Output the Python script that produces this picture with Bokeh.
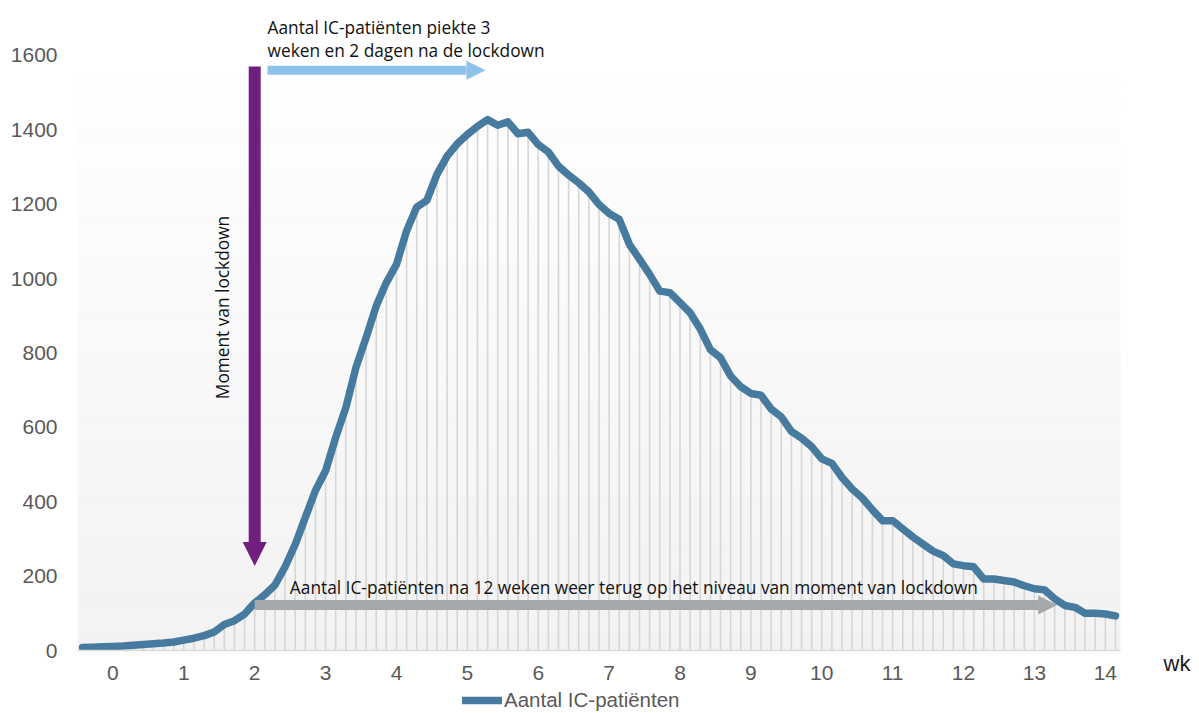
import numpy as np
from bokeh.plotting import figure
from bokeh.layouts import column
from bokeh.models import (Range1d, FixedTicker, LinearAxis, Arrow, NormalHead,
                          Label, Legend, LegendItem)
from bokeh.embed import file_html
from bokeh.resources import INLINE

# ---------------- data ----------------
days = list(range(-3, 100))          # day 0 = week 0
ic_patients = [
    8, 9, 10, 11, 12, 14, 16, 18, 20, 23,
    28, 33, 40, 50, 70, 80, 98, 128, 150, 176,
    225, 285, 358, 430, 483, 573, 653, 761, 841, 926,
    989, 1038, 1128, 1192, 1210, 1280, 1329, 1362, 1387, 1409,
    1427, 1412, 1421, 1389, 1393, 1360, 1340, 1302, 1278, 1257,
    1233, 1199, 1175, 1159, 1092, 1052, 1011, 966, 962, 935,
    908, 864, 809, 787, 738, 709, 691, 686, 649, 628,
    589, 571, 548, 515, 503, 465, 434, 410, 378, 349,
    349, 327, 305, 286, 267, 255, 233, 228, 225, 192,
    192, 188, 184, 174, 166, 163, 139, 121, 116, 100,
    100, 98, 93,
]
week_ticks = list(range(0, 15))
y_ticks = list(range(0, 1601, 200))
series_name = "Aantal IC-patiënten"
x_unit_label = "wk"
peak_note_1 = "Aantal IC-patiënten piekte 3"
peak_note_2 = "weken en 2 dagen na de lockdown"
lockdown_note = "Moment van lockdown"
return_note = "Aantal IC-patiënten na 12 weken weer terug op het niveau van moment van lockdown"

lockdown_week = 2.0
peak_week = days[int(np.argmax(ic_patients))] / 7
return_week = 13.32

# ---------------- layout ----------------
W = 1199
FRAME_BOTTOM = 650
B_BOTTOM = 39
H_MAIN = FRAME_BOTTOM + B_BOTTOM
H_LEG = 713 - H_MAIN
PX_PER_UNIT = 0.372
y_end = FRAME_BOTTOM / PX_PER_UNIT

weeks = [d / 7 for d in days]
x_range = Range1d((days[0] - 0.5) / 7, (days[-1] + 0.5) / 7)
y_range = Range1d(0, y_end)

p = figure(width=W, height=H_MAIN, x_range=x_range, y_range=y_range,
           output_backend="svg", toolbar_location=None,
           min_border_left=77, min_border_right=79,
           min_border_top=0, min_border_bottom=B_BOTTOM)
p.outline_line_color = None
p.xgrid.visible = False
p.ygrid.visible = False
p.background_fill_color = "white"
p.border_fill_color = "white"

# gradient plot area (white at 1600 -> light grey at 0)
edges = np.linspace(0, 1600, 65)
cols = []
for k in range(len(edges) - 1):
    t = (edges[k] + edges[k + 1]) / 2 / 1600
    c = int(round(242 + (255 - 242) * t))
    cols.append("#%02x%02x%02x" % (c, c, c))
p.quad(left=x_range.start, right=x_range.end, bottom=edges[:-1], top=edges[1:],
       fill_color=cols, line_color=cols, line_width=0.6)

# drop lines
p.segment(x0=weeks, y0=[0] * len(weeks), x1=weeks, y1=ic_patients,
          line_color="#d6d6d6", line_width=1.6)

line_style = dict(line_color="#467a9e", line_width=7.5, line_join="round", line_cap="round")
p.line(weeks, ic_patients, **line_style)

# axes
p.xaxis.ticker = FixedTicker(ticks=week_ticks)
p.xaxis.axis_line_color = "#d9d9d9"
p.xaxis.axis_line_width = 1.5
p.xaxis.major_tick_line_color = None
p.xaxis.minor_tick_line_color = None
p.xaxis.major_tick_out = 0
p.xaxis.major_tick_in = 0
p.xaxis.major_label_standoff = 15
p.xaxis.major_label_text_font = "Liberation Sans"
p.xaxis.major_label_text_font_size = "21px"
p.xaxis.major_label_text_color = "#595959"

p.yaxis.ticker = FixedTicker(ticks=y_ticks)
p.yaxis.axis_line_color = None
p.yaxis.major_tick_line_color = None
p.yaxis.minor_tick_line_color = None
p.yaxis.major_tick_out = 0
p.yaxis.major_tick_in = 0
p.yaxis.major_label_standoff = 20
p.yaxis.major_label_text_font = "Liberation Sans"
p.yaxis.major_label_text_font_size = "21px"
p.yaxis.major_label_text_color = "#595959"

wk_axis = LinearAxis(ticker=FixedTicker(ticks=[0]),
                     major_label_overrides={0: "\n" + x_unit_label},
                     axis_line_color=None, major_tick_line_color=None,
                     minor_tick_line_color=None, major_tick_out=0, major_tick_in=0,
                     major_label_standoff=43,
                     major_label_text_font="Liberation Sans",
                     major_label_text_font_size="22px",
                     major_label_text_line_height=1.0,
                     major_label_text_color="#1a1a1a")
p.add_layout(wk_axis, "right")

# arrows
purple = "#701f7e"
p.add_layout(Arrow(x_start=lockdown_week, y_start=1570, x_end=lockdown_week, y_end=227,
                   line_color=purple, line_width=12,
                   end=NormalHead(size=24, fill_color=purple, line_color=None)))
lblue = "#8dc3ea"
p.add_layout(Arrow(x_start=lockdown_week + 0.18, y_start=1560, x_end=peak_week - 0.03, y_end=1560,
                   line_color=lblue, line_width=9,
                   end=NormalHead(size=19, fill_color=lblue, line_color=None)))
grey = "#a5a8ab"
p.add_layout(Arrow(x_start=lockdown_week, y_start=122, x_end=return_week, y_end=122,
                   line_color=grey, line_width=10,
                   end=NormalHead(size=19, fill_color=grey, line_color=None)))

# notes
note_style = dict(text_font="Open Sans", text_font_size="17.3px", text_color="#111111")
p.add_layout(Label(x=2.181, y=1675, text=peak_note_1, text_baseline="alphabetic",
                   text_align="left", **note_style))
p.add_layout(Label(x=2.181, y=1614, text=peak_note_2, text_baseline="alphabetic",
                   text_align="left", **note_style))
p.add_layout(Label(x=1.546, y=922, text=lockdown_note, angle=np.pi / 2,
                   text_baseline="middle", text_align="center", **note_style))
p.add_layout(Label(x=2.496, y=170, text=return_note, text_baseline="alphabetic",
                   text_align="left", **note_style))

# legend strip (separate small figure under the chart)
p2 = figure(width=W, height=H_LEG, x_range=Range1d(0, 1), y_range=Range1d(0, 1),
            output_backend="svg", toolbar_location=None,
            x_axis_location=None, y_axis_location=None,
            min_border_left=0, min_border_right=0, min_border_top=0, min_border_bottom=0)
p2.outline_line_color = None
p2.xgrid.visible = False
p2.ygrid.visible = False
p2.border_fill_color = "white"
p2.background_fill_color = "white"
swatch = p2.line(x=[0], y=[0], **line_style)
legend = Legend(items=[LegendItem(label=series_name, renderers=[swatch])],
                location=(385, 1), orientation="horizontal",
                border_line_color=None, background_fill_alpha=0,
                padding=0, margin=0, glyph_width=40, glyph_height=16,
                label_height=16, label_standoff=2,
                label_text_font="Liberation Sans", label_text_font_size="20.5px",
                label_text_color="#595959")
p2.add_layout(legend)

layout = column(p, p2, spacing=0)
open("out.html", "w").write(file_html(layout, INLINE))
